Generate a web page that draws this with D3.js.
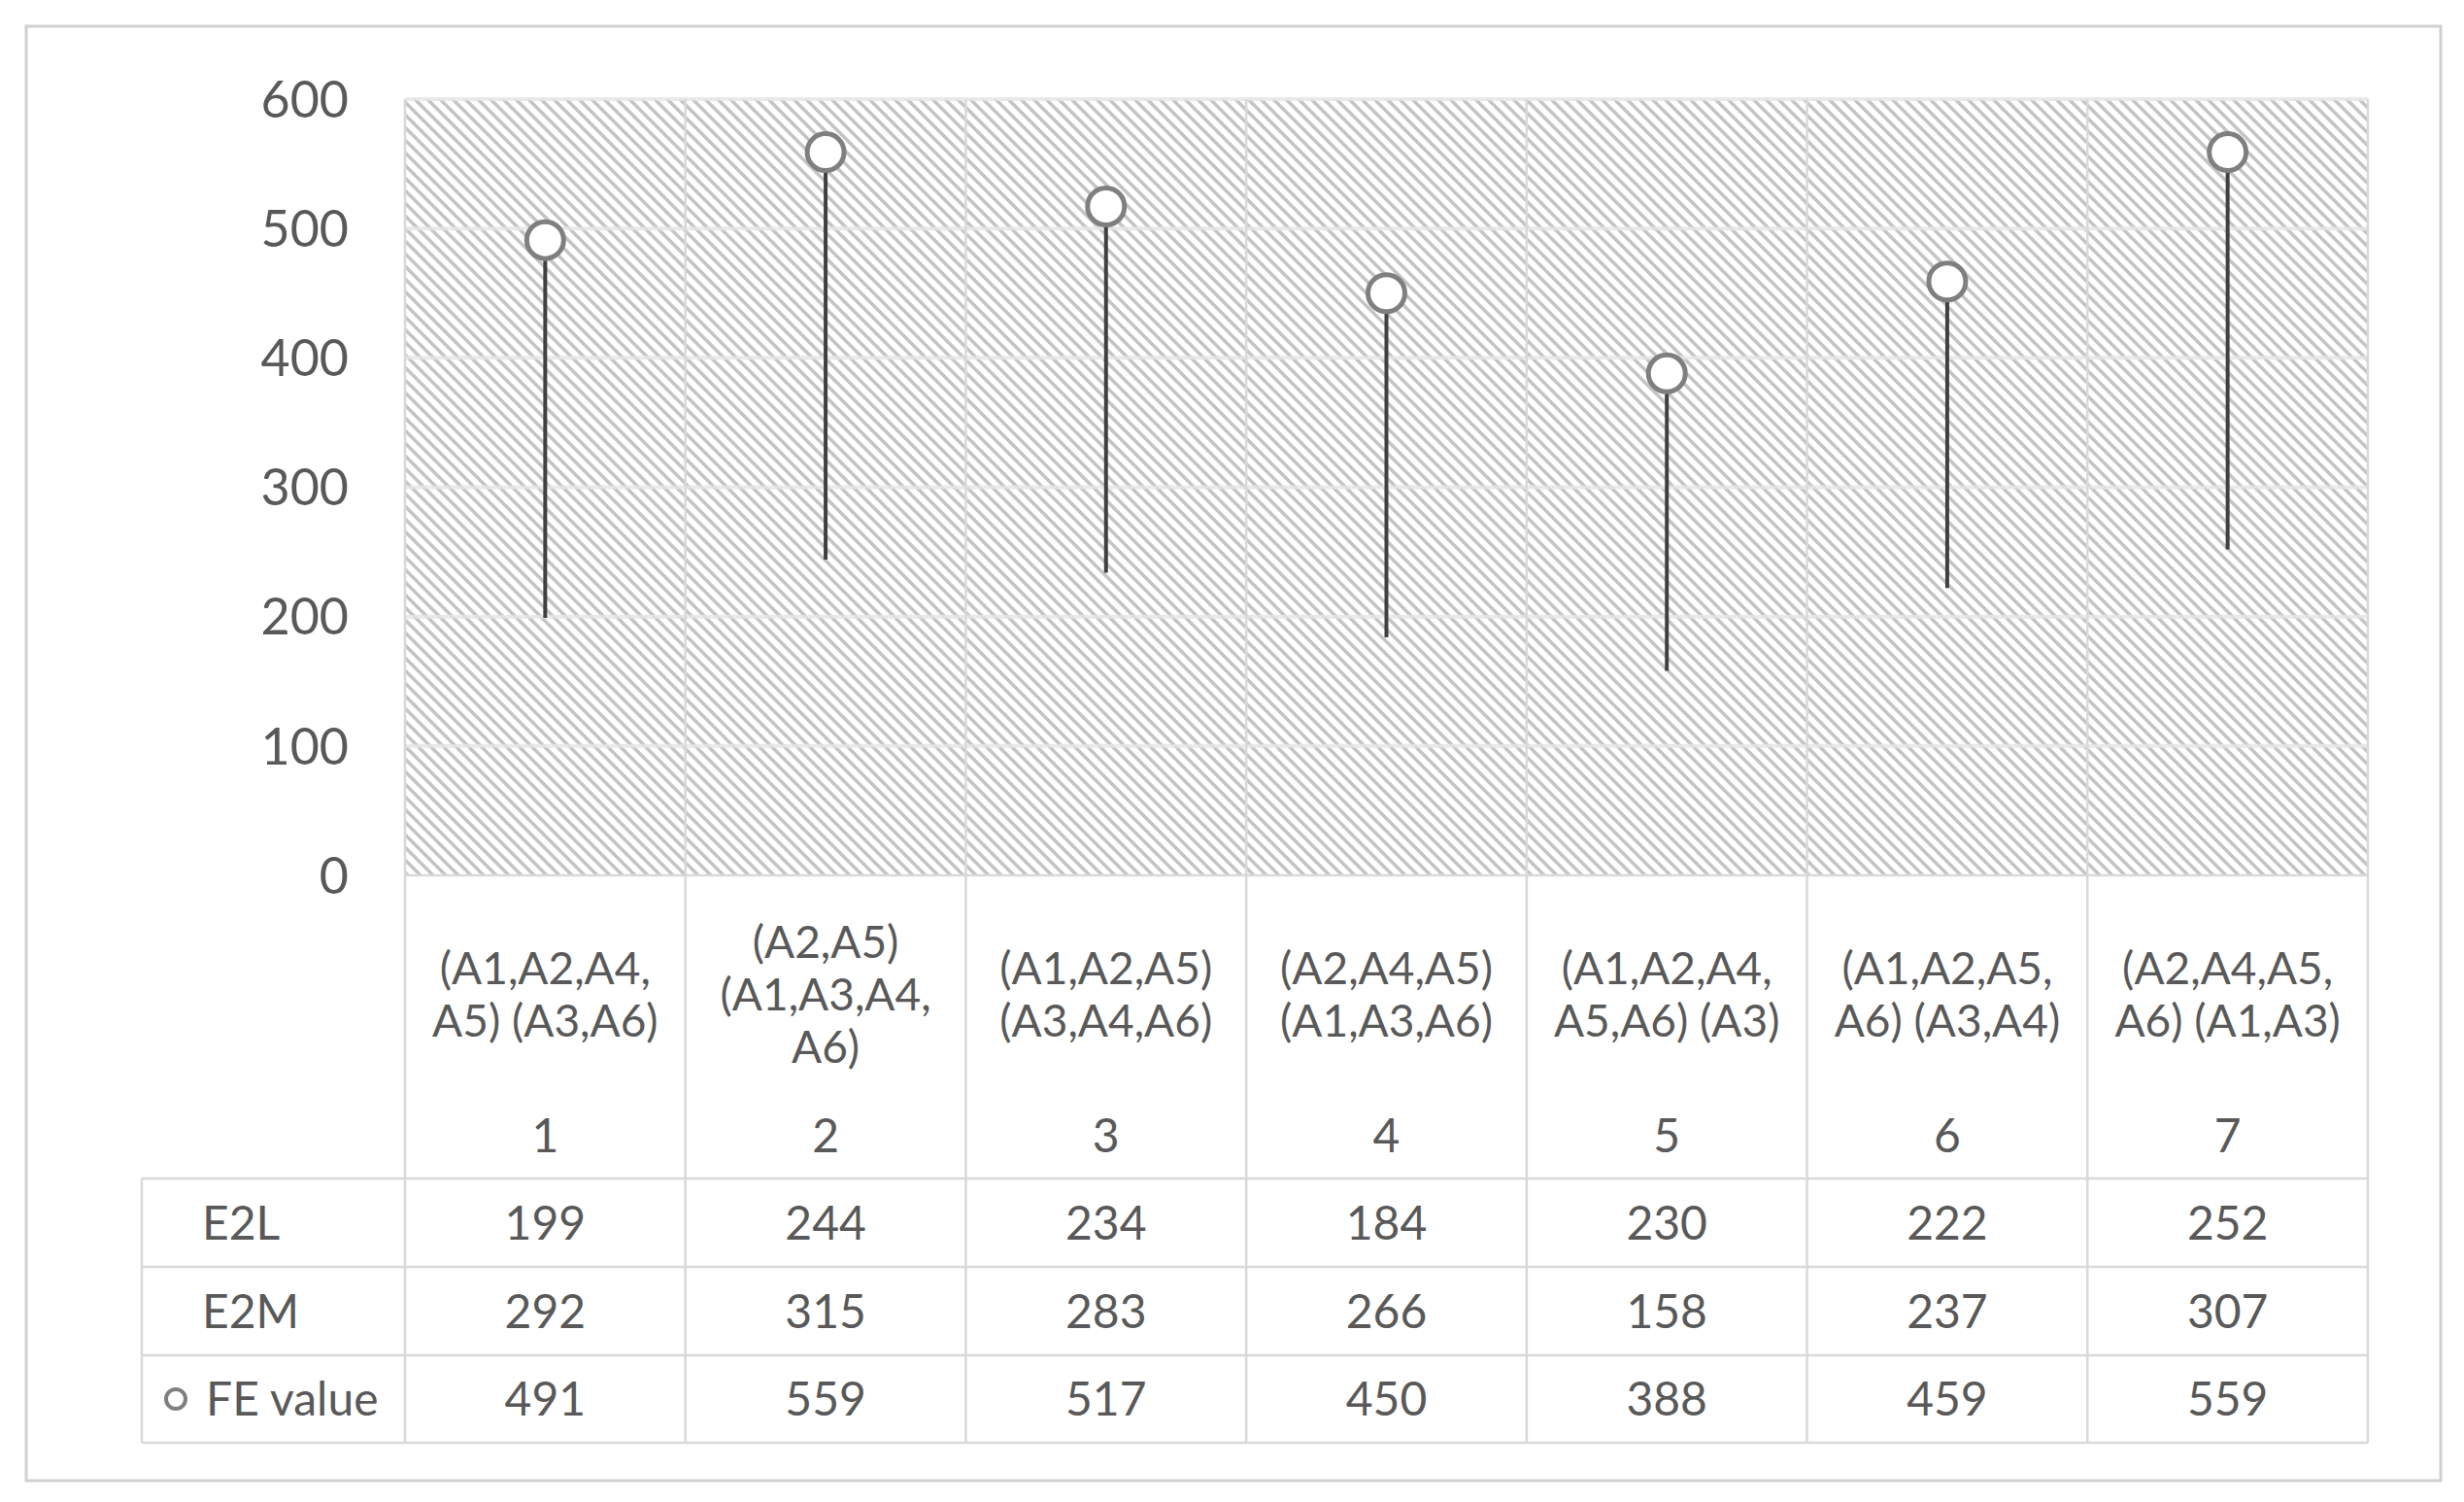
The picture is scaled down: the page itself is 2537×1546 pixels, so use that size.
<!DOCTYPE html>
<html><head><meta charset="utf-8">
<script src="https://cdn.jsdelivr.net/npm/d3@7"></script>
<style>body{margin:0;background:#fff}svg{display:block}</style>
</head><body>
<svg id="chart" width="2537" height="1546"></svg>
<script>
// 数据
const categories = ["1", "2", "3", "4", "5", "6", "7"];
const groupLabels = [
  ["(A1,A2,A4,", "A5) (A3,A6)"],
  ["(A2,A5)", "(A1,A3,A4,", "A6)"],
  ["(A1,A2,A5)", "(A3,A4,A6)"],
  ["(A2,A4,A5)", "(A1,A3,A6)"],
  ["(A1,A2,A4,", "A5,A6) (A3)"],
  ["(A1,A2,A5,", "A6) (A3,A4)"],
  ["(A2,A4,A5,", "A6) (A1,A3)"]
];
const e2l = [199, 244, 234, 184, 230, 222, 252];
const e2m = [292, 315, 283, 266, 158, 237, 307];
const feValue = [491, 559, 517, 450, 388, 459, 559];
const yTicks = [0, 100, 200, 300, 400, 500, 600];

const svg = d3.select("#chart");
const textColor = "#595959";
const font = "Lato, 'Open Sans', sans-serif";

// 外框
svg.append("rect").attr("x", 27).attr("y", 27).attr("width", 2486).attr("height", 1497)
  .attr("fill", "#fff").attr("stroke", "#d0d0d0").attr("stroke-width", 3);

const plot = {left: 417, right: 2438, top: 102, bottom: 901};
const x = d3.scaleBand().domain(categories).range([plot.left, plot.right]);
const y = d3.scaleLinear().domain([0, 600]).range([plot.bottom, plot.top]);

// 斜线填充
const defs = svg.append("defs");
const pat = defs.append("pattern").attr("id", "hatch").attr("patternUnits", "userSpaceOnUse")
  .attr("width", 13).attr("height", 13);
pat.append("rect").attr("width", 13).attr("height", 13).attr("fill", "#fff");
pat.append("path").attr("d", "M-6.5,-6.5L19.5,19.5M-6.5,6.5L6.5,19.5M6.5,-6.5L19.5,6.5")
  .attr("stroke", "#c4c4c4").attr("stroke-width", 3.5);

svg.append("rect").attr("x", plot.left).attr("y", plot.top)
  .attr("width", plot.right - plot.left).attr("height", plot.bottom - plot.top)
  .attr("fill", "url(#hatch)");

// 网格线
svg.append("g").selectAll("line").data(yTicks.slice(1)).join("line")
  .attr("x1", plot.left).attr("x2", plot.right)
  .attr("y1", d => y(d)).attr("y2", d => y(d))
  .attr("stroke", "#e6e6e6").attr("stroke-width", 4).attr("opacity", 0.8);

// 表格
const rows = [
  {name: "E2L", vals: e2l, top: 1213, bottom: 1304},
  {name: "E2M", vals: e2m, top: 1304, bottom: 1395},
  {name: "FE value", vals: feValue, top: 1395, bottom: 1485}
];
const tableLeft = 146;
const grid = svg.append("g").attr("stroke", "#d9d9d9").attr("stroke-width", 2.5);
x.domain().forEach(c => {
  grid.append("line").attr("x1", x(c)).attr("x2", x(c)).attr("y1", plot.top).attr("y2", 1485);
});
grid.append("line").attr("x1", plot.right).attr("x2", plot.right).attr("y1", plot.top).attr("y2", 1485);
grid.append("line").attr("x1", tableLeft).attr("x2", tableLeft).attr("y1", 1213).attr("y2", 1485);
[1213, 1304, 1395, 1485].forEach(v => {
  grid.append("line").attr("x1", tableLeft).attr("x2", plot.right).attr("y1", v).attr("y2", v);
});
grid.append("line").attr("x1", plot.left).attr("x2", plot.right).attr("y1", plot.bottom).attr("y2", plot.bottom);

// y 轴刻度
svg.append("g").selectAll("text").data(yTicks).join("text")
  .attr("x", 359).attr("y", d => y(d)).attr("dy", "0.36em")
  .attr("text-anchor", "end").attr("fill", textColor)
  .attr("font-family", font).attr("font-size", 52).text(d => d);

// 分类标签
categories.forEach((c, i) => {
  const cx = x(c) + x.bandwidth() / 2;
  const lines = groupLabels[i];
  const lh = 54;
  const mid = 1023;
  lines.forEach((t, j) => {
    svg.append("text").attr("x", cx).attr("y", mid + (j - (lines.length - 1) / 2) * lh)
      .attr("dy", "0.36em").attr("text-anchor", "middle").attr("fill", textColor)
      .attr("font-family", font).attr("font-size", 46).text(t);
  });
  svg.append("text").attr("x", cx).attr("y", 1169).attr("dy", "0.36em")
    .attr("text-anchor", "middle").attr("fill", textColor)
    .attr("font-family", font).attr("font-size", 48).text(c);
});

// 表格数值
rows.forEach(r => {
  const cy = (r.top + r.bottom) / 2;
  r.vals.forEach((v, i) => {
    svg.append("text").attr("x", x(categories[i]) + x.bandwidth() / 2).attr("y", cy)
      .attr("dy", "0.36em").attr("text-anchor", "middle").attr("fill", textColor)
      .attr("font-family", font).attr("font-size", 48).text(v);
  });
  svg.append("text").attr("x", r.name === "FE value" ? 212 : 208).attr("y", cy)
    .attr("dy", "0.36em").attr("fill", textColor)
    .attr("font-family", font).attr("font-size", 48).text(r.name);
});
// 图例标记
svg.append("circle").attr("cx", 181).attr("cy", (1395 + 1485) / 2).attr("r", 10)
  .attr("fill", "#fff").attr("stroke", "#7f7f7f").attr("stroke-width", 4);

// 高低线：从 E2L/E2M 中的较小值到 FE 值
svg.append("g").selectAll("line").data(categories).join("line")
  .attr("x1", d => x(d) + x.bandwidth() / 2).attr("x2", d => x(d) + x.bandwidth() / 2)
  .attr("y1", (d, i) => y(Math.min(e2l[i], e2m[i]))).attr("y2", (d, i) => y(feValue[i]))
  .attr("stroke", "#404040").attr("stroke-width", 4);

// FE 值标记
svg.append("g").selectAll("circle").data(categories).join("circle")
  .attr("cx", d => x(d) + x.bandwidth() / 2).attr("cy", (d, i) => y(feValue[i]))
  .attr("r", 19).attr("fill", "#fff").attr("stroke", "#7f7f7f").attr("stroke-width", 5);
</script>
</body></html>
